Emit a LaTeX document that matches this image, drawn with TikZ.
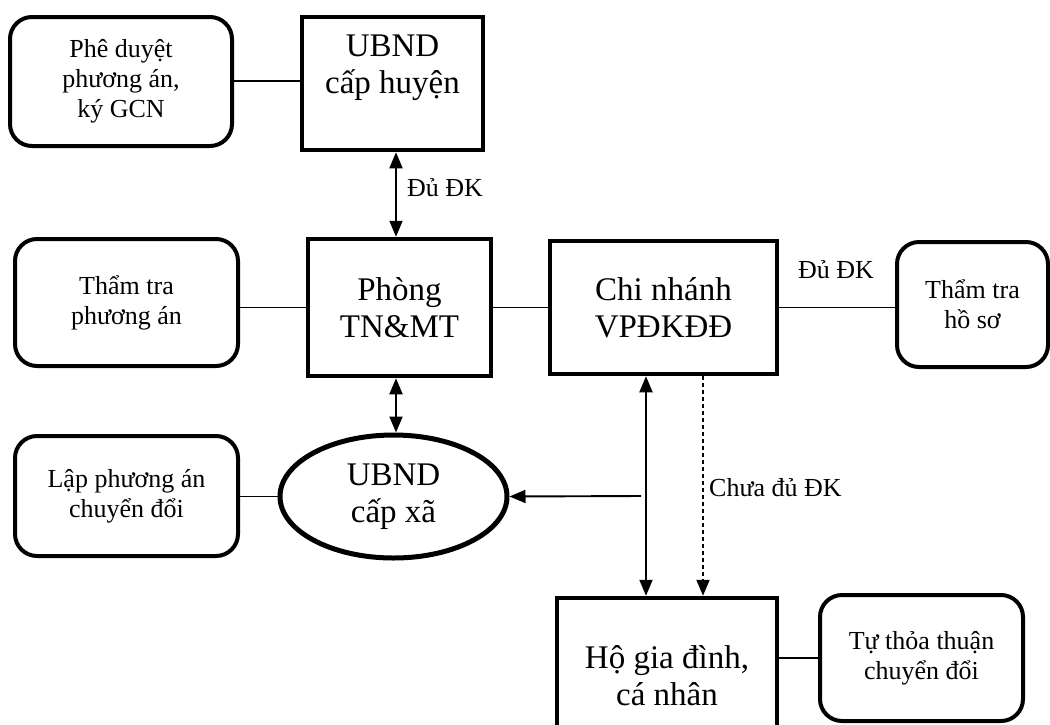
\documentclass[tikz,border=0pt]{standalone}
\usepackage{fontspec}
\setmainfont{Liberation Serif}
\usetikzlibrary{shapes.geometric,arrows.meta}
\newcommand\bigtxt{\fontsize{33}{37}\selectfont}
\newcommand\smalltxt{\fontsize{26}{30}\selectfont}
\begin{document}
\begin{tikzpicture}[x=1pt,y=-1pt,
  mainbox/.style={draw, line width=4.5pt, inner sep=0pt, align=center, font=\bigtxt},
  taskbox/.style={draw, line width=4pt, rounded corners=22pt, inner sep=0pt, align=center, font=\smalltxt},
  oval/.style={ellipse, draw, line width=5pt, inner sep=0pt, align=center, font=\bigtxt},
  boxtext/.style={inner sep=0pt, align=center, font=\bigtxt},
  note/.style={inner sep=0pt, font=\smalltxt},
  link/.style={line width=1.9pt},
  tip/.tip={Triangle[length=16pt,width=13pt]},
  twoway/.style={link, tip-tip},
  oneway/.style={link, -tip},
  maybe/.style={link, -tip, dash pattern=on 4pt off 3pt}]

\useasboundingbox (0,0) rectangle (1050,724);
\clip (0,0) rectangle (1050,724);

% district level
\node[taskbox, minimum width=222pt, minimum height=129pt] (A) at (121,81.5)
  {Phê duyệt\\phương án,\\ký GCN};
\node[mainbox, minimum width=181pt, minimum height=133pt] (B) at (392.5,83.5) {};
\node[boxtext] (Bt) at (392.5,68) {UBND\\cấp huyện};

% office row
\node[taskbox, minimum width=223pt, minimum height=127pt] (C) at (126.5,302.5)
  {Thẩm tra\\phương án};
\node[mainbox, minimum width=183pt, minimum height=137pt] (D) at (399.5,307.5)
  {Phòng\\TN\&MT};
\node[mainbox, minimum width=227pt, minimum height=133pt] (E) at (663.5,307.5)
  {Chi nhánh\\VPĐKĐĐ};
\node[taskbox, minimum width=151pt, minimum height=125pt] (F) at (972.5,304.5)
  {Thẩm tra\\hồ sơ};

% commune level
\node[taskbox, minimum width=223pt, minimum height=120pt] (H) at (126.5,496)
  {Lập phương án\\chuyển đổi};
\node[oval, minimum width=227pt, minimum height=123pt] (G) at (393.5,496.5)
  {UBND\\cấp xã};

% households
\node[mainbox, minimum width=220pt, minimum height=172pt] (I) at (667,684) {};
\node[boxtext] (It) at (667,676) {Hộ gia đình,\\cá nhân};
\node[taskbox, minimum width=203pt, minimum height=126pt] (J) at (921.5,658)
  {Tự thỏa thuận\\chuyển đổi};

% guide lines for the vertical connectors
\coordinate (xa) at (396,0);
\coordinate (xb) at (646,0);
\coordinate (xc) at (703,0);
\coordinate (fork) at (641,496);

% connectors
\draw[link] (A.east |- 0,81) -- (B.west |- 0,81);
\draw[twoway] (B.south -| xa) -- (D.north -| xa);
\draw[link] (D.west) -- (D.west -| C.east);
\draw[link] (D.east) -- (D.east -| E.west);
\draw[link] (E.east) -- (E.east -| F.west);
\draw[twoway] (D.south -| xa) -- (G.north -| xa);
\draw[link] (H.east |- G.west) -- (G.west);
\draw[oneway] (fork) -- (G.east);
\draw[twoway] (E.south -| xb) -- (I.north -| xb);
\draw[maybe] (E.south -| xc) -- (I.north -| xc);
\draw[link] (J.west) -- (J.west -| I.east);

% labels
\node[note, anchor=west] (l1) at (407,188) {Đủ ĐK};
\node[note] (l2) at (836,270) {Đủ ĐK};
\node[note, anchor=west] (l3) at (709,488) {Chưa đủ ĐK};
\end{tikzpicture}
\end{document}
